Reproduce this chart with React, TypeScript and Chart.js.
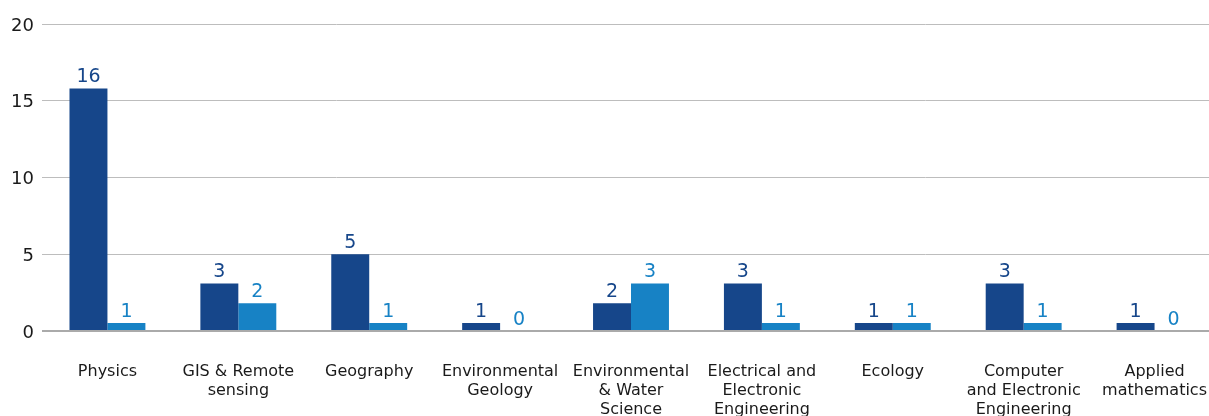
import React, { useEffect, useRef } from "react";
import { Chart, registerables } from "chart.js";

Chart.register(...registerables);

// Categories (multi-line labels as in the reference)
const categories: (string | string[])[] = [
  "Physics",
  ["GIS & Remote", "sensing"],
  "Geography",
  ["Environmental", "Geology"],
  ["Environmental", "& Water", "Science"],
  ["Electrical and", "Electronic", "Engineering"],
  "Ecology",
  ["Computer", "and Electronic", "Engineering"],
  ["Applied", "mathematics"],
];

// Bar heights as drawn in the picture
const darkValues = [15.8, 3.1, 5, 0.52, 1.8, 3.1, 0.52, 3.1, 0.52];
const lightValues = [0.52, 1.8, 0.52, 0, 3.1, 0.52, 0.52, 0.52, 0];

// Value labels printed above the bars
const darkLabels = [16, 3, 5, 1, 2, 3, 1, 3, 1];
const lightLabels = [1, 2, 1, 0, 3, 1, 1, 1, 0];

// Y axis tick labels
const yTicks = [0, 5, 10, 15, 20];

const DARK = "#16468A";
const LIGHT = "#1782C5";
const FONT = "'DejaVu Sans', sans-serif";

const valueLabelPlugin = {
  id: "valueLabels",
  afterDatasetsDraw(chart: any) {
    const ctx = chart.ctx;
    ctx.save();
    ctx.font = `19px ${FONT}`;
    ctx.textAlign = "center";
    ctx.textBaseline = "alphabetic";
    chart.data.datasets.forEach((ds: any, di: number) => {
      const meta = chart.getDatasetMeta(di);
      const labels = di === 0 ? darkLabels : lightLabels;
      ctx.fillStyle = di === 0 ? DARK : LIGHT;
      meta.data.forEach((bar: any, i: number) => {
        ctx.fillText(String(labels[i]), bar.x, bar.y - 6);
      });
    });
    ctx.restore();
  },
};

export default function App() {
  const ref = useRef<HTMLCanvasElement | null>(null);

  useEffect(() => {
    if (!ref.current) return;
    const chart = new Chart(ref.current, {
      type: "bar",
      data: {
        labels: categories,
        datasets: [
          {
            label: "A",
            data: darkValues,
            backgroundColor: DARK,
            categoryPercentage: 0.58,
            barPercentage: 1,
          },
          {
            label: "B",
            data: lightValues,
            backgroundColor: LIGHT,
            categoryPercentage: 0.58,
            barPercentage: 1,
          },
        ],
      },
      options: {
        responsive: false,
        animation: false,
        layout: { padding: { top: 24, left: 0, right: 0, bottom: 0 } },
        plugins: {
          legend: { display: false },
          tooltip: { enabled: false },
        },
        scales: {
          x: {
            grid: { display: false },
            border: { display: false },
            ticks: {
              autoSkip: false,
              maxRotation: 0,
              minRotation: 0,
              padding: 23,
              color: "#1a1a1a",
              font: { family: FONT, size: 16, lineHeight: 19 / 16 },
            },
            afterFit: (scale: any) => {
              scale.height = 85;
              scale.paddingLeft = 0;
              scale.paddingRight = 0;
            },
          },
          y: {
            min: 0,
            max: 20,
            border: { display: false },
            grid: {
              drawTicks: false,
              color: (c: any) => (c.tick && c.tick.value === 0 ? "#aaaaaa" : "#bdbdbd"),
              lineWidth: (c: any) => (c.tick && c.tick.value === 0 ? 2 : 1),
            },
            afterBuildTicks: (scale: any) => {
              scale.ticks = yTicks.map((v) => ({ value: v }));
            },
            ticks: {
              padding: 8,
              labelOffset: 2,
              color: "#1a1a1a",
              font: { family: FONT, size: 18 },
            },
            afterFit: (scale: any) => {
              scale.width = 42;
            },
          },
        },
      },
      plugins: [valueLabelPlugin],
    });
    return () => chart.destroy();
  }, []);

  return (
    <div
      style={{
        position: "fixed",
        left: 0,
        top: 0,
        width: 1209,
        height: 416,
        overflow: "hidden",
        background: "#fff",
      }}
    >
      <canvas ref={ref} width={1220} height={416} style={{ display: "block" }} />
    </div>
  );
}
